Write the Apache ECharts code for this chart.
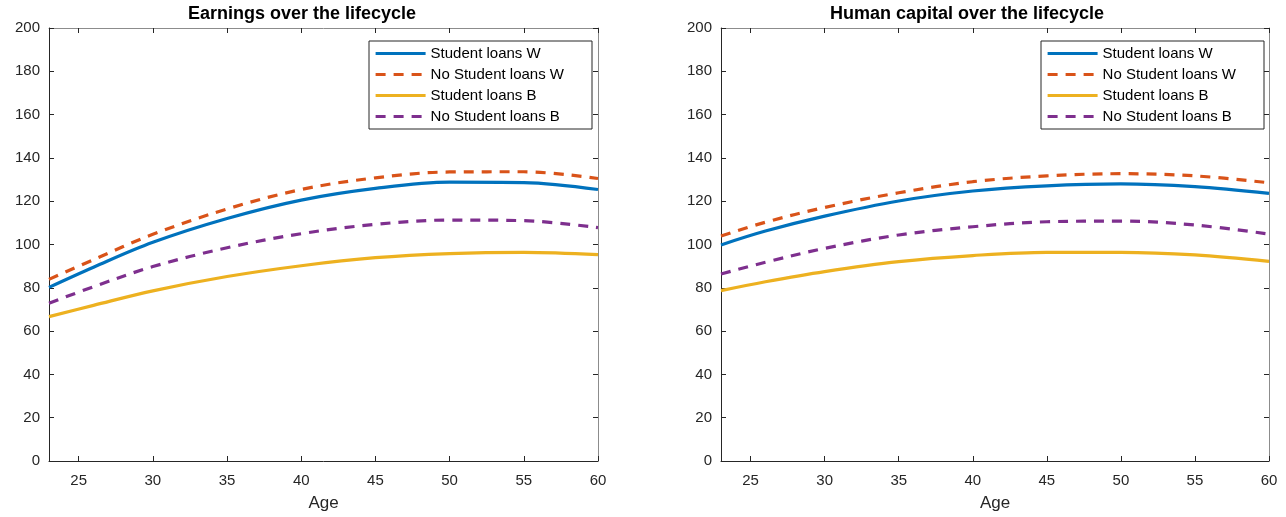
<!DOCTYPE html>
<html>
<head>
<meta charset="utf-8">
<script src="https://cdn.jsdelivr.net/npm/echarts@6/dist/echarts.min.js"></script>
<style>
html,body{margin:0;padding:0;background:#fff;}
#chart{width:1286px;height:517px;}
</style>
</head>
<body>
<div id="chart"></div>
<script>
// ---- data ----
const ages = [23, 26, 30, 35, 40, 45, 50, 55, 60];

const seriesNames = ['Student loans W', 'No Student loans W', 'Student loans B', 'No Student loans B'];

// Earnings over the lifecycle
const earnSLW   = [80.2, 89.5, 101.0, 112.0, 120.5, 125.9, 128.8, 128.6, 125.4];
const earnNoSLW = [83.9, 93.0, 104.7, 116.4, 125.4, 130.8, 133.5, 133.6, 130.5];
const earnSLB   = [66.7, 71.9, 78.6, 85.2, 90.2, 93.9, 95.8, 96.4, 95.3];
const earnNoSLB = [72.9, 80.5, 89.8, 98.5, 105.0, 109.3, 111.3, 111.0, 107.8];

// Human capital over the lifecycle
const hcSLW   = [99.8, 106.2, 113.1, 120.1, 124.7, 127.1, 128.0, 126.7, 123.6];
const hcNoSLW = [103.9, 110.3, 117.1, 123.9, 129.0, 131.7, 132.7, 131.7, 128.5];
const hcSLB   = [78.7, 82.8, 87.5, 92.1, 94.9, 96.4, 96.4, 95.2, 92.2];
const hcNoSLB = [86.4, 91.8, 98.2, 104.4, 108.2, 110.5, 110.8, 109.0, 104.8];

const titles = ['Earnings over the lifecycle', 'Human capital over the lifecycle'];
const xName = 'Age';

// ---- styling ----
const colors = ['#0072BD', '#D95319', '#EDB120', '#7E2F8E'];
const dashed = [false, true, false, true];
const FONT = '"Liberation Sans", Arial, Helvetica, sans-serif';
const AX = '#262626';
const AX2 = '#8c8c8c';

const grids = [
  {left: 49, top: 28, width: 549, height: 433},
  {left: 721, top: 28, width: 548, height: 433}
];

function zip(vals) { return ages.map((a, i) => [a, vals[i]]); }
const panels = [
  [earnSLW, earnNoSLW, earnSLB, earnNoSLB],
  [hcSLW, hcNoSLW, hcSLB, hcNoSLB]
];

const xAxes = [], yAxes = [], series = [];
grids.forEach((g, gi) => {
  xAxes.push({
    type: 'value', gridIndex: gi, min: 23, max: 60, splitNumber: 7, minInterval: 5, maxInterval: 5,
    position: 'bottom',
    name: xName, nameLocation: 'middle', nameGap: 34,
    nameTextStyle: {fontFamily: FONT, fontSize: 17, color: AX},
    axisLine: {show: true, lineStyle: {color: AX, width: 1}},
    axisTick: {show: true, inside: true, length: 5, lineStyle: {color: AX}},
    axisLabel: {fontFamily: FONT, fontSize: 15, color: AX, margin: 12, showMinLabel: false,
      formatter: v => (v % 5 === 0 ? String(v) : '')},
    splitLine: {show: false}
  });
  xAxes.push({
    type: 'value', gridIndex: gi, min: 23, max: 60, splitNumber: 7, minInterval: 5, maxInterval: 5,
    position: 'top',
    axisLine: {show: true, onZero: false, lineStyle: {color: AX2, width: 1}},
    axisTick: {show: true, inside: true, length: 5, lineStyle: {color: AX}},
    axisLabel: {show: false},
    splitLine: {show: false}
  });
  yAxes.push({
    type: 'value', gridIndex: gi, min: 0, max: 200, interval: 20, position: 'left',
    axisLine: {show: true, lineStyle: {color: AX, width: 1}},
    axisTick: {show: true, inside: true, length: 5, lineStyle: {color: AX}},
    axisLabel: {fontFamily: FONT, fontSize: 15, color: AX, margin: 9},
    splitLine: {show: false}
  });
  yAxes.push({
    type: 'value', gridIndex: gi, min: 0, max: 200, interval: 20, position: 'right',
    axisLine: {show: true, onZero: false, lineStyle: {color: AX2, width: 1}},
    axisTick: {show: true, inside: true, length: 5, lineStyle: {color: AX}},
    axisLabel: {show: false},
    splitLine: {show: false}
  });
  panels[gi].forEach((vals, si) => {
    series.push({
      type: 'line', name: seriesNames[si],
      xAxisIndex: gi * 2, yAxisIndex: gi * 2,
      data: zip(vals), smooth: 0.35, showSymbol: false, symbol: 'none',
      color: colors[si],
      lineStyle: {color: colors[si], width: 3.2, type: dashed[si] ? [10, 8] : 'solid'},
      z: 10 - si
    });
  });
});

const legendCommon = {
  orient: 'vertical', itemWidth: 50, itemHeight: 14, itemGap: 6,
  padding: [5, 28, 5, 5],
  borderColor: AX, borderWidth: 1, backgroundColor: '#fff',
  textStyle: {fontFamily: FONT, fontSize: 15, color: '#000'},
  itemStyle: {opacity: 0},
  lineStyle: {width: 3.2},
  data: seriesNames.slice(),
  selectedMode: false
};

const option = {
  animation: false,
  backgroundColor: '#fff',
  title: [
    {text: titles[0], left: 302, top: 5, textAlign: 'center', padding: 0,
     textStyle: {fontFamily: FONT, fontSize: 18, fontWeight: 'bold', color: '#000'}},
    {text: titles[1], left: 967, top: 5, textAlign: 'center', padding: 0,
     textStyle: {fontFamily: FONT, fontSize: 18, fontWeight: 'bold', color: '#000'}}
  ],
  legend: [
    Object.assign({}, legendCommon, {left: 369, top: 41}),
    Object.assign({}, legendCommon, {left: 1041, top: 41})
  ],
  grid: grids,
  xAxis: xAxes,
  yAxis: yAxes,
  series: series
};

const chart = echarts.init(document.getElementById('chart'), null, {renderer: 'canvas'});
chart.setOption(option);
</script>
</body>
</html>
